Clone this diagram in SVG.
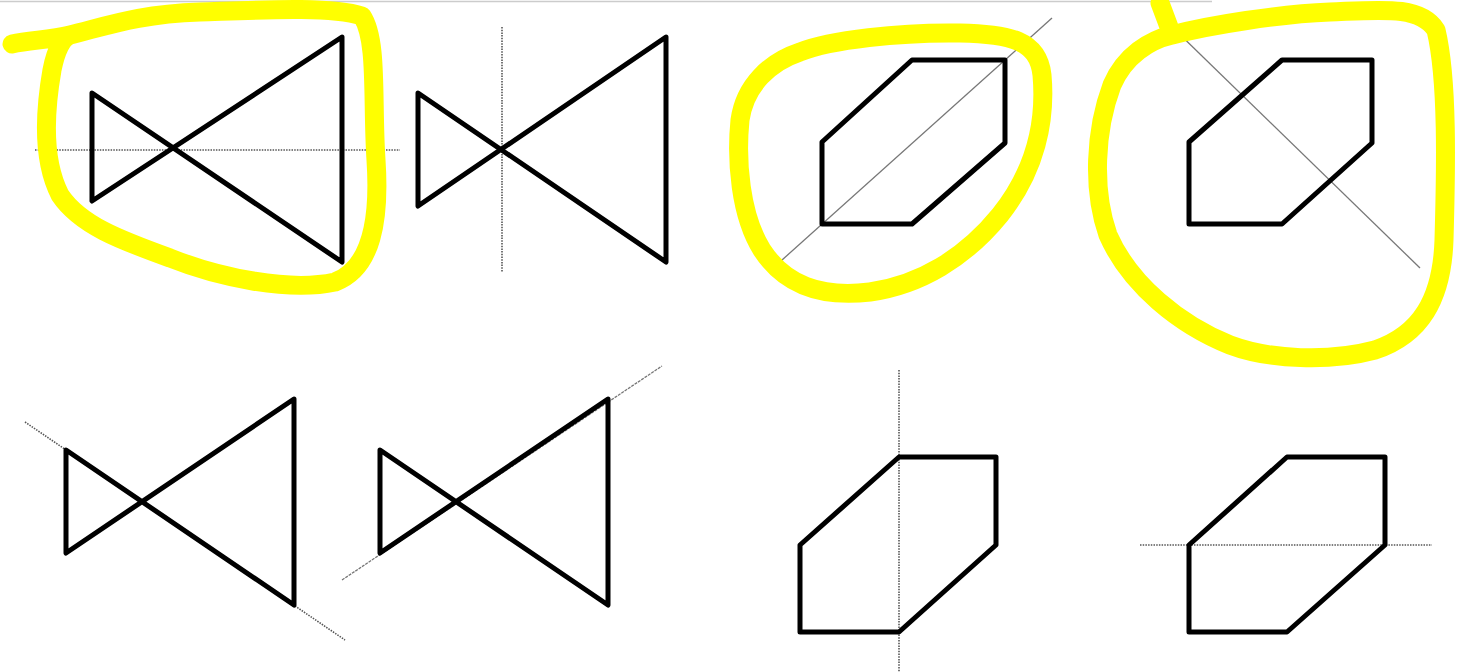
<svg xmlns="http://www.w3.org/2000/svg" width="1470" height="672" viewBox="0 0 1470 672">
<style>
.sym{fill:none;stroke:#000;stroke-width:5;stroke-linejoin:round;stroke-linecap:round}
.dot{fill:none;stroke:#555;stroke-width:1.6;stroke-dasharray:1.5 1.2}
.thin{fill:none;stroke:#777;stroke-width:1.3}
.hl{fill:none;stroke:#FFFF00;stroke-width:19;stroke-linecap:round;stroke-linejoin:round}
</style>
<rect width="1470" height="672" fill="#fff"/>
<line x1="0" y1="1.5" x2="1212" y2="1.5" stroke="#ccc" stroke-width="1.5"/>

<g id="connectors">
  <line class="dot" x1="35" y1="150" x2="400" y2="150"/>
  <line class="dot" x1="502" y1="27" x2="502" y2="272"/>
  <line class="thin" x1="782" y1="260" x2="1052" y2="18"/>
  <line class="thin" x1="1165" y1="20" x2="1420" y2="268"/>
  <line class="dot" x1="25" y1="422" x2="345" y2="640"/>
  <line class="thin" x1="342" y1="580" x2="662" y2="366" stroke-dasharray="3 1"/>
  <line class="dot" x1="899" y1="370" x2="899" y2="672"/>
  <line class="dot" x1="1140" y1="545" x2="1432" y2="545"/>
</g>

<g id="valve-1"><polygon class="sym" points="92,93 342,262 342,37 92,201"/></g>
<g id="valve-2"><polygon class="sym" points="418,93 666,262 666,37 418,206"/></g>
<g id="hex-1"><polygon class="sym" points="912,60 1005,60 1005,143 912,224 822,224 822,142"/></g>
<g id="hex-2"><polygon class="sym" points="1282,60 1372,60 1372,143 1282,224 1189,224 1189,142"/></g>
<g id="valve-3"><polygon class="sym" points="66,450 294,605 294,399 66,553"/></g>
<g id="valve-4"><polygon class="sym" points="380,450 608,605 608,399 380,553"/></g>
<g id="hex-3"><polygon class="sym" points="899,457 996,457 996,545 899,632 800,632 800,545"/></g>
<g id="hex-4"><polygon class="sym" points="1287,457 1385,457 1385,545 1287,632 1189,632 1189,545"/></g>

<g id="highlights">
  <path class="hl" d="M 12 44 C 30 40, 50 40, 70 35 C 110 25, 140 14, 200 12 C 260 10, 330 6, 362 16 C 378 40, 372 100, 376 160 C 380 220, 372 268, 335 282 C 290 292, 220 278, 170 258 C 120 240, 80 225, 60 195 C 42 160, 45 110, 52 70 C 56 50, 62 38, 70 35"/>
  <path class="hl" d="M 800 52 C 830 40, 900 32, 960 33 C 1010 34, 1038 40, 1042 75 C 1046 120, 1036 170, 1000 215 C 965 258, 920 285, 870 292 C 820 298, 785 285, 762 250 C 740 215, 736 160, 740 120 C 745 85, 770 62, 800 52"/>
  <path class="hl" d="M 1160 3 L 1172 35 C 1210 25, 1280 14, 1330 12 C 1380 10, 1420 5, 1436 30 C 1448 80, 1446 170, 1444 240 C 1442 300, 1420 335, 1375 350 C 1330 362, 1270 360, 1230 345 C 1180 325, 1130 285, 1108 235 C 1092 190, 1095 130, 1112 85 C 1125 55, 1150 40, 1172 35"/>
</g>
</svg>
